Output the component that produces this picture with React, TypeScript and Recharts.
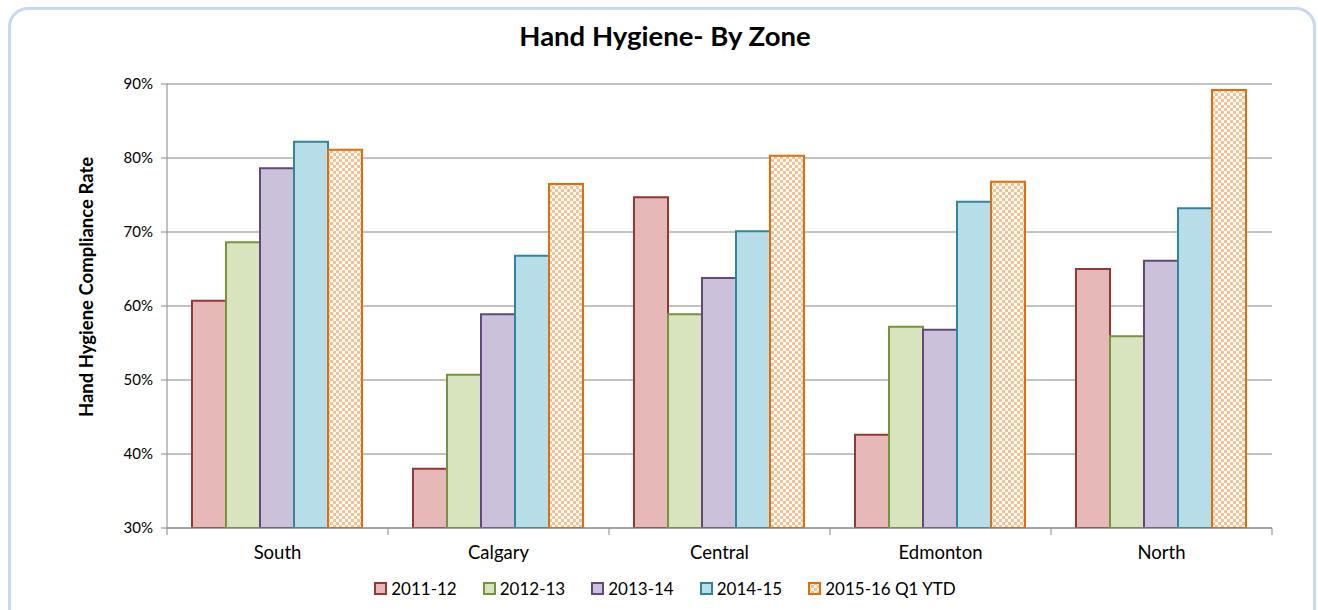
import { BarChart, Bar, XAxis, YAxis, CartesianGrid, Legend } from 'recharts'

const zones = ['South', 'Calgary', 'Central', 'Edmonton', 'North']
const y2011 = [60.7, 38.0, 74.7, 42.6, 65.0]
const y2012 = [68.6, 50.7, 58.9, 57.2, 55.9]
const y2013 = [78.6, 58.9, 63.8, 56.8, 66.1]
const y2014 = [82.2, 66.8, 70.1, 74.1, 73.2]
const y2015 = [81.1, 76.5, 80.3, 76.8, 89.2]
const yTicks = [30, 40, 50, 60, 70, 80, 90]

const series = [
  { key: '2011-12', values: y2011, fill: '#e6b9b8', stroke: '#953735' },
  { key: '2012-13', values: y2012, fill: '#d7e4bd', stroke: '#77933c' },
  { key: '2013-14', values: y2013, fill: '#ccc1da', stroke: '#604a7b' },
  { key: '2014-15', values: y2014, fill: '#b7dee8', stroke: '#31859c' },
  { key: '2015-16 Q1 YTD', values: y2015, fill: 'url(#checker)', stroke: '#e46c0a' },
]

const data = zones.map((zone, i) => {
  const row: Record<string, string | number> = { zone }
  series.forEach((s) => {
    row[s.key] = s.values[i]
  })
  return row
})

const FONT = 'Lato, "Open Sans", sans-serif'
const BAND = 221

// x ticks sit between categories, like the Excel original
function ZoneTick(props: any) {
  const { x, y, payload, index } = props
  return (
    <g>
      <line x1={x - BAND / 2} x2={x - BAND / 2} y1={y} y2={y + 7} stroke="#868686" />
      {index === zones.length - 1 && (
        <line x1={x + BAND / 2} x2={x + BAND / 2} y1={y} y2={y + 7} stroke="#868686" />
      )}
      <text x={x} y={y + 31} textAnchor="middle" fontSize={18.5} fill="#000" fontFamily={FONT}>
        {payload.value}
      </text>
    </g>
  )
}

function LegendBox() {
  return (
    <div
      style={{
        height: 24,
        display: 'flex',
        justifyContent: 'center',
        alignItems: 'center',
        gap: 26,
        paddingLeft: 12,
        fontFamily: FONT,
        fontSize: 17,
        color: '#000',
      }}
    >
      {series.map((s) => (
        <div key={s.key} style={{ display: 'flex', alignItems: 'center', gap: 4 }}>
          <svg width={13} height={13}>
            <rect
              x={1}
              y={1}
              width={11}
              height={11}
              fill={s.fill === 'url(#checker)' ? 'url(#checkerLegend)' : s.fill}
              stroke={s.stroke}
              strokeWidth={2}
            />
          </svg>
          <span>{s.key}</span>
        </div>
      ))}
    </div>
  )
}

export default function App() {
  return (
    <div style={{ position: 'absolute', left: 0, top: 0, width: 1318, height: 610, background: '#fff', overflow: 'hidden' }}>
      <div
        style={{
          position: 'absolute',
          left: 8,
          top: 7,
          width: 1302,
          height: 640,
          border: '3px solid #c6d9f1',
          borderRadius: 20,
        }}
      />
      <svg width={0} height={0} style={{ position: 'absolute' }}>
        <defs>
          <pattern id="checkerLegend" width={6} height={6} patternUnits="userSpaceOnUse">
            <rect width={6} height={6} fill="#fff" />
            <rect width={3} height={3} fill="#fac090" />
            <rect x={3} y={3} width={3} height={3} fill="#fac090" />
          </pattern>
        </defs>
      </svg>
      <div
        style={{
          position: 'absolute',
          left: 0,
          width: 1318,
          top: 19,
          textAlign: 'center',
          fontFamily: FONT,
          fontWeight: 'bold',
          fontSize: 27.5,
          color: '#000',
          paddingLeft: 6,
        }}
      >
        Hand Hygiene- By Zone
      </div>
      <BarChart
        width={1318}
        height={610}
        data={data}
        margin={{ top: 84, right: 46, left: 87, bottom: 10 }}
        barCategoryGap={25}
        barGap={0}
        style={{ position: 'absolute', left: 0, top: 0 }}
      >
        <defs>
          <pattern id="checker" width={6} height={6} patternUnits="userSpaceOnUse">
            <rect width={6} height={6} fill="#fff" />
            <rect width={3} height={3} fill="#fac090" />
            <rect x={3} y={3} width={3} height={3} fill="#fac090" />
          </pattern>
        </defs>
        <CartesianGrid vertical={false} stroke="#868686" />
        <XAxis
          dataKey="zone"
          height={48}
          tickSize={0}
          tickMargin={0}
          tickLine={false}
          axisLine={{ stroke: '#868686' }}
          tick={<ZoneTick />}
          interval={0}
        />
        <YAxis
          width={80}
          domain={[30, 90]}
          ticks={yTicks}
          interval={0}
          allowDataOverflow
          tickFormatter={(v: number) => `${v}%`}
          tickSize={6}
          tickMargin={8}
          tickLine={{ stroke: '#868686' }}
          axisLine={{ stroke: '#868686' }}
          tick={{ fontSize: 15, fill: '#000', fontFamily: FONT }}
          label={{
            content: () => (
              <text
                x={93}
                y={287}
                transform="rotate(-90, 93, 287)"
                textAnchor="middle"
                fontSize={18.5}
                fontWeight="bold"
                fontFamily={FONT}
                fill="#000"
              >
                Hand Hygiene Compliance Rate
              </text>
            ),
          }}
        />
        <Legend
          verticalAlign="bottom"
          content={<LegendBox />}
          wrapperStyle={{ left: 0, width: 1318, bottom: 10 }}
        />
        {series.map((s) => (
          <Bar
            key={s.key}
            dataKey={s.key}
            fill={s.fill}
            stroke={s.stroke}
            strokeWidth={2}
            isAnimationActive={false}
          />
        ))}
      </BarChart>
    </div>
  )
}
